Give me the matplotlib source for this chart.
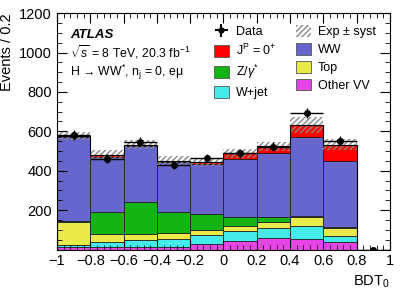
import numpy as np
import matplotlib
matplotlib.use("Agg")
import matplotlib.pyplot as plt
from matplotlib.patches import Patch
from matplotlib.ticker import MultipleLocator

plt.rcParams['font.family'] = ['Liberation Sans', 'DejaVu Sans']
plt.rcParams['mathtext.fontset'] = 'custom'
plt.rcParams['mathtext.rm'] = 'Liberation Sans'
plt.rcParams['mathtext.it'] = 'Liberation Sans:italic'

# bins of BDT_0
edges = np.linspace(-1, 1, 11)

# backgrounds, bottom to top (events per bin)
other_vv = [11, 11, 11, 11, 28, 45, 58, 53, 36, 0]
w_jet = [14, 25, 36, 44, 46, 49, 50, 68, 34, 0]
top = [116, 41, 33, 27, 25, 25, 30, 46, 41, 0]
z_gamma = [6, 115, 160, 110, 81, 48, 26, 5, 1, 0]
ww = [422, 280, 286, 253, 253, 292, 325, 397, 337, 0]
signal = [6, 6, 7, 5, 10, 30, 34, 64, 83, 0]
syst = [20, 25, 25, 25, 20, 22, 25, 42, 28, 0]

data = [582, 462, 548, 430, 464, 489, 521, 692, 553, 0]

comps = [
    (other_vv, '#e645e6', 'Other VV'),
    (w_jet, '#45eaea', 'W+jet'),
    (top, '#eaea4a', 'Top'),
    (z_gamma, '#14b414', r'Z/$\gamma^{*}$'),
    (ww, '#6666cc', 'WW'),
    (signal, '#ff0000', r'$\mathrm{J^{P}}$ = 0$^{+}$'),
]

fig = plt.figure(figsize=(4.07, 2.92), dpi=100)
ax = fig.add_axes([0.140, 0.1455, 0.818, 0.8095])

bottom = np.zeros(10)
for vals, col, lab in comps:
    vals = np.array(vals, dtype=float)
    ax.bar(edges[:-1], vals, width=0.2, bottom=bottom, align='edge',
           color=col, edgecolor='#222222', linewidth=0.6)
    bottom = bottom + vals

total = bottom
syst = np.array(syst, dtype=float)
# hatched uncertainty band
ax.bar(edges[:-1], 2 * syst, width=0.2, bottom=total - syst, align='edge',
       facecolor='none', edgecolor='#888888', hatch='//////', linewidth=0)
ax.stairs(total, edges, color='black', linewidth=0.8)

centers = 0.5 * (edges[:-1] + edges[1:])
data = np.array(data, dtype=float)
ax.errorbar(centers, data, xerr=0.1, yerr=np.sqrt(data), fmt='o', color='black',
            markersize=4, elinewidth=1.0, capsize=0)

ax.set_xlim(-1, 1)
ax.set_ylim(0, 1200)
ax.xaxis.set_major_locator(MultipleLocator(0.2))
ax.xaxis.set_minor_locator(MultipleLocator(0.04))
ax.yaxis.set_major_locator(MultipleLocator(200))
ax.yaxis.set_minor_locator(MultipleLocator(50))
ax.tick_params(which='both', direction='in', top=True, right=True, labelsize=10.5)
ax.tick_params(which='major', length=7)
ax.tick_params(which='minor', length=3.5)
ax.set_yticks([200, 400, 600, 800, 1000, 1200])
ax.set_xticks(np.round(np.arange(-1, 1.01, 0.2), 1))
ax.set_xticklabels(['−1', '−0.8', '−0.6', '−0.4', '−0.2', '0', '0.2', '0.4', '0.6', '0.8', '1'])

ax.set_ylabel('Events / 0.2', loc='top', fontsize=10.5)
ax.set_xlabel('BDT$_{0}$', loc='right', fontsize=10.5)

ax.text(0.039, 0.909, 'ATLAS', transform=ax.transAxes, fontsize=9.5,
        fontweight='bold', fontstyle='italic', va='center')
ax.text(0.039, 0.833, r'$\sqrt{s}$ = 8 TeV, 20.3 fb$^{-1}$', transform=ax.transAxes,
        fontsize=8.8, va='center')
ax.text(0.039, 0.748, r'H → WW$^{*}$, n$_{\mathrm{j}}$ = 0, eμ', transform=ax.transAxes,
        fontsize=8.8, va='center')

data_h = ax.errorbar([], [], xerr=1, yerr=1, fmt='o', color='black', markersize=3.5)
band_h = Patch(facecolor='white', edgecolor='#888888', hatch='//////', linewidth=0)
def box(c):
    return Patch(facecolor=c, edgecolor='#555555', linewidth=0.6)
handles = [data_h, box('#ff0000'), box('#14b414'), box('#45eaea'),
           band_h, box('#6666cc'), box('#eaea4a'), box('#e645e6')]
labels = ['Data', comps[5][2], comps[3][2], 'W+jet',
          'Exp ± syst', 'WW', 'Top', 'Other VV']
ax.legend(handles, labels, ncol=2, loc='upper left', bbox_to_anchor=(0.471, 0.948),
          frameon=False, fontsize=9, handlelength=1.2, handleheight=1.05,
          handletextpad=0.6, columnspacing=1.5, labelspacing=0.38,
          borderaxespad=0, borderpad=0)

fig.savefig('out.png', dpi=100)
